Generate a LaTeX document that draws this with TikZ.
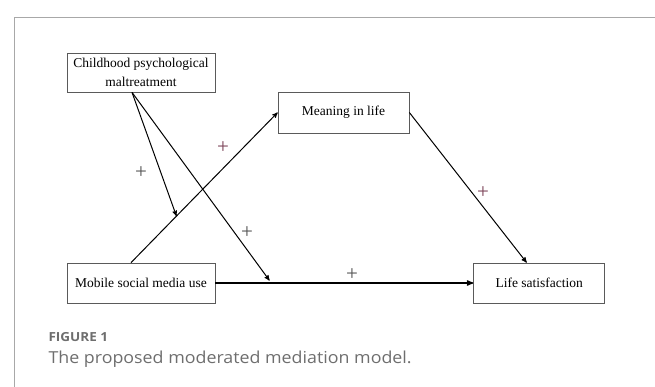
\documentclass[tikz,border=0pt]{standalone}
\usepackage{fontspec}
\setmainfont{Liberation Serif}
\newfontfamily\capfont{Open Sans}[FakeStretch=1.08]
\usepackage{tikz}
\usetikzlibrary{arrows,positioning,calc}
\definecolor{framegray}{HTML}{A8A8A8}
\definecolor{boxgray}{HTML}{5A5A5A}
\definecolor{capgray}{HTML}{6E6E6E}
\definecolor{plusgray}{HTML}{505050}
\definecolor{plusred}{HTML}{7A4055}

\begin{document}
\begin{tikzpicture}[x=1pt, y=-1pt, line width=1pt, black, >=stealth']
    \useasboundingbox (0,0) rectangle (655,387);
    % Frame
    \draw[framegray, line width=0.8pt] (655,17.5) -- (14,17.5) -- (14,387);

    %Nodes
    \begin{scope}[every node/.style={rectangle, draw=boxgray, line width=0.7pt, align=center, inner sep=0pt, font=\fontsize{13.5}{19}\selectfont}]
    \node (Childhood) [minimum width=148pt, minimum height=39pt] at (141,72.5) {Childhood psychological\\maltreatment};
    \node (Meaning)   [minimum width=131pt, minimum height=41pt] at (343.5,112.5) {Meaning in life};
    \node (Mobile)    [minimum width=148pt, minimum height=40pt] at (141,283) {Mobile social media use};
    \node (Life)      [minimum width=131pt, minimum height=40pt, right=258pt of Mobile] {Life satisfaction};
    \end{scope}

    %Lines
    \draw[->] ([xshift=-10pt]Mobile.north) -- coordinate[pos=0.31] (ModA) (Meaning.west);
    \draw[->] (Meaning.east) -- ([xshift=-12.5pt]Life.north);
    \draw[->, line width=1.3pt] (Mobile.east) -- coordinate[pos=0.217] (ModB) (Life.west);
    \draw[->] ([xshift=-9pt]Childhood.south) -- (ModA);
    \draw[->, shorten >=3pt] ([xshift=-9pt]Childhood.south) -- (ModB);

    % Signs
    \begin{scope}[every node/.style={inner sep=0pt, font=\fontsize{21}{21}\selectfont}]
    \node[text=plusgray] (PlusMod)    at (141,173) {+};
    \node[text=plusred]  (PlusA)      at (223,148) {+};
    \node[text=plusgray] (PlusModB)   at (247,233) {+};
    \node[text=plusgray] (PlusDirect) at (352,275) {+};
    \node[text=plusred]  (PlusB)      at (483,193) {+};
    \end{scope}

    % Caption
    \node[anchor=base west, inner sep=0pt, text=capgray, font=\capfont\bfseries\fontsize{12.5}{14}\selectfont] (FigLabel) at (48,341) {FIGURE 1};
    \node[anchor=base west, inner sep=0pt, text=capgray, font=\capfont\fontsize{16.5}{18}\selectfont] (FigCaption) at (48,363) {The proposed moderated mediation model.};
\end{tikzpicture}
\end{document}
